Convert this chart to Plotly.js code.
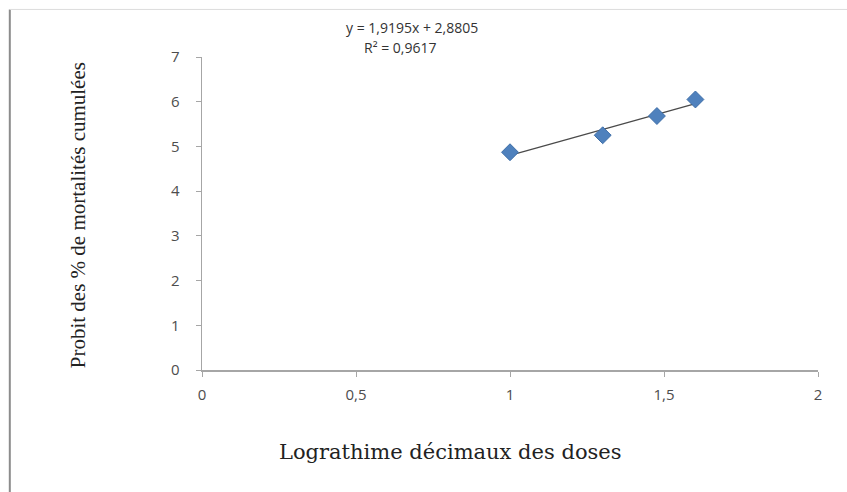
<!DOCTYPE html>
<html>
<head>
<meta charset="utf-8">
<script src="https://cdn.plot.ly/plotly-3.0.1.min.js"></script>
<style>html,body{margin:0;padding:0;background:#fff;}#chart{width:847px;height:492px;}</style>
</head>
<body>
<div id="chart"></div>
<script>
// Data
const logDose = [1.0, 1.301, 1.477, 1.602];
const probit = [4.87, 5.25, 5.68, 6.05];
// Linear trendline endpoints (y = 1,9195x + 2,8805)
const trendX = [1.0, 1.602];
const trendY = [4.80, 5.956];
const xTicks = [0, 0.5, 1, 1.5, 2];
const xTickLabels = ["0", "0,5", "1", "1,5", "2"];
const yTicks = [0, 1, 2, 3, 4, 5, 6, 7];
const eqText = "y = 1,9195x + 2,8805";
const r2Text = "R² = 0,9617";
const xTitle = "Lograthime décimaux des doses";
const yTitle = "Probit des % de mortalités cumulées";

const traces = [
  {x: trendX, y: trendY, mode: "lines", line: {color: "#4a4a4a", width: 1.2}, hoverinfo: "skip", showlegend: false},
  {x: logDose, y: probit, mode: "markers", marker: {symbol: "diamond", size: 13, color: "#4f81bd", line: {color: "#3f6fa8", width: 1}}, showlegend: false}
];

const tickFont = {family: "Open Sans, Liberation Sans, sans-serif", size: 15, color: "#4d4d4d"};

const layout = {
  width: 847, height: 492,
  margin: {l: 202, r: 29, t: 57, b: 122},
  paper_bgcolor: "#ffffff", plot_bgcolor: "#ffffff",
  showlegend: false,
  xaxis: {
    range: [0, 2], tickvals: xTicks, ticktext: xTickLabels,
    showgrid: false, zeroline: false, showline: true, linecolor: "#a6a6a6", linewidth: 1.5,
    ticks: "outside", ticklen: 5, tickcolor: "#a6a6a6", ticklabelstandoff: 5,
    tickfont: tickFont
  },
  yaxis: {
    range: [0, 7], tickvals: yTicks,
    showgrid: false, zeroline: false, showline: true, linecolor: "#a6a6a6", linewidth: 1.5,
    ticks: "outside", ticklen: 5, tickcolor: "#a6a6a6", ticklabelstandoff: 13,
    tickfont: tickFont
  },
  annotations: [
    {xref: "paper", yref: "paper", x: 0.341, y: 1.093, xanchor: "center", yanchor: "middle", showarrow: false,
     text: eqText, font: {family: "Open Sans, Liberation Sans, sans-serif", size: 14, color: "#333"}},
    {xref: "paper", yref: "paper", x: 0.321, y: 1.029, xanchor: "center", yanchor: "middle", showarrow: false,
     text: r2Text, font: {family: "Open Sans, Liberation Sans, sans-serif", size: 14, color: "#333"}},
    {xref: "paper", yref: "paper", x: 0.403, y: -0.262, xanchor: "center", yanchor: "middle", showarrow: false,
     text: xTitle, font: {family: "DejaVu Serif, Liberation Serif, serif", size: 21, color: "#222"}},
    {xref: "paper", yref: "paper", x: -0.201, y: 0.495, xanchor: "center", yanchor: "middle", showarrow: false, textangle: -90,
     text: yTitle, font: {family: "Liberation Serif, DejaVu Serif, serif", size: 21, color: "#222"}}
  ],
  shapes: [
    {type: "line", xref: "paper", yref: "paper", x0: -0.312, x1: -0.312, y0: 1.152, y1: -0.39, line: {color: "#8c8c8c", width: 2}},
    {type: "line", xref: "paper", yref: "paper", x0: -0.312, x1: 1.05, y0: 1.152, y1: 1.152, line: {color: "#dcdcdc", width: 1}}
  ]
};

Plotly.newPlot("chart", traces, layout, {displayModeBar: false, staticPlot: true});
</script>
</body>
</html>
